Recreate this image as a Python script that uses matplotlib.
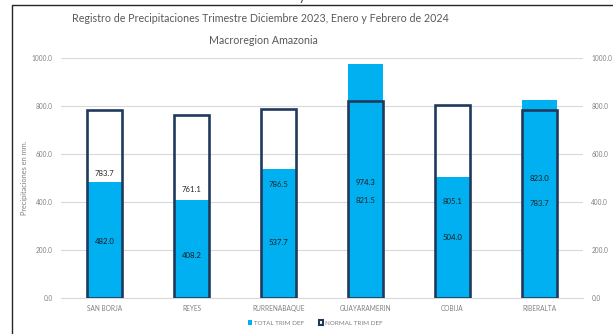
import matplotlib.pyplot as plt
from matplotlib.lines import Line2D
from matplotlib.patches import Patch

plt.rcParams['font.family'] = ['Lato', 'DejaVu Sans']

estaciones = ['SAN BORJA', 'REYES', 'RURRENABAQUE', 'GUAYARAMERIN', 'COBIJA', 'RIBERALTA']
total_trim = [482.0, 408.2, 537.7, 974.3, 504.0, 823.0]
normal_trim = [783.7, 761.1, 786.5, 821.5, 805.1, 783.7]

# where the data labels sit (in mm)
y_lbl_total = [237, 175, 233, 483, 250, 496]
y_lbl_normal = [520, 450, 471, 408, 400, 392]

W, H = 613, 334
fig = plt.figure(figsize=(W / 100, H / 100), dpi=100)
ax = fig.add_axes([61 / W, (H - 298) / H, 522 / W, 240 / H])

x = range(len(estaciones))
ax.bar(x, total_trim, width=0.4, color='#00B0F0', zorder=2)
ax.bar(x, normal_trim, width=0.4, facecolor='none', edgecolor='#203A5E', linewidth=1.9, zorder=3)

for i in x:
    ax.text(i, y_lbl_total[i], f'{total_trim[i]:.1f}', ha='center', va='center', fontsize=5.6, color='#1a1a1a', zorder=4)
    ax.text(i, y_lbl_normal[i], f'{normal_trim[i]:.1f}', ha='center', va='center', fontsize=5.6, color='#262626', zorder=4)

ax.set_xlim(-0.5, len(estaciones) - 0.5)
ax.set_ylim(0, 1000)
ax.set_yticks(range(0, 1001, 200))
ax.set_yticklabels([f'{v:.1f}' for v in range(0, 1001, 200)])
ax.set_xticks(list(x))
ax.set_xticklabels(estaciones)
ax.grid(axis='y', color='#d9d9d9', linewidth=0.8, zorder=0)
ax.set_axisbelow(True)
for s in ['top', 'right', 'left']:
    ax.spines[s].set_visible(False)
ax.spines['bottom'].set_color('#d9d9d9')
ax.tick_params(axis='both', length=0, labelsize=4.7, labelcolor='#808080')
ax.tick_params(axis='x', pad=5)
ax.tick_params(axis='y', pad=6)
ax.set_ylabel('Precipitaciones en mm.', fontsize=5.3, color='#808080')
ax.yaxis.set_label_coords(-33 / 522, 0.5)

ax2 = ax.twinx()
ax2.set_ylim(0, 1000)
ax2.set_yticks(range(0, 1001, 200))
ax2.set_yticklabels([f'{v:.1f}' for v in range(0, 1001, 200)])
for s in ax2.spines.values():
    s.set_visible(False)
ax2.tick_params(axis='y', length=0, labelsize=4.7, labelcolor='#808080', pad=6)

fig.text(260 / W, (H - 19) / H, 'Registro de Precipitaciones Trimestre Diciembre 2023, Enero y Febrero de 2024',
         ha='center', va='center', fontsize=7.7, color='#595959')
fig.text(263 / W, (H - 40) / H, 'Macroregion Amazonia', ha='center', va='center', fontsize=7.7, color='#595959')

handles = [Patch(facecolor='#00B0F0', edgecolor='none'),
           Patch(facecolor='#ffffff', edgecolor='#203A5E', linewidth=1.5)]
fig.legend(handles, ['TOTAL TRIM DEF', 'NORMAL TRIM DEF'], loc='center', bbox_to_anchor=(315 / W, (H - 323) / H),
           ncol=2, frameon=False, fontsize=4.5, labelcolor='#808080', handlelength=0.7, handleheight=0.7,
           handletextpad=0.3, columnspacing=2.4)

# chart frame and the edge of the text above it
fig.add_artist(Line2D([12 / W, 12 / W, 1.0], [0.0, (H - 5) / H, (H - 5) / H], transform=fig.transFigure,
                      color='#262626', linewidth=1.0))
fig.text(302 / W, (H - 1) / H, 'y', ha='center', va='baseline', fontsize=9, color='#203A5E')

fig.savefig('out.png', dpi=100)
